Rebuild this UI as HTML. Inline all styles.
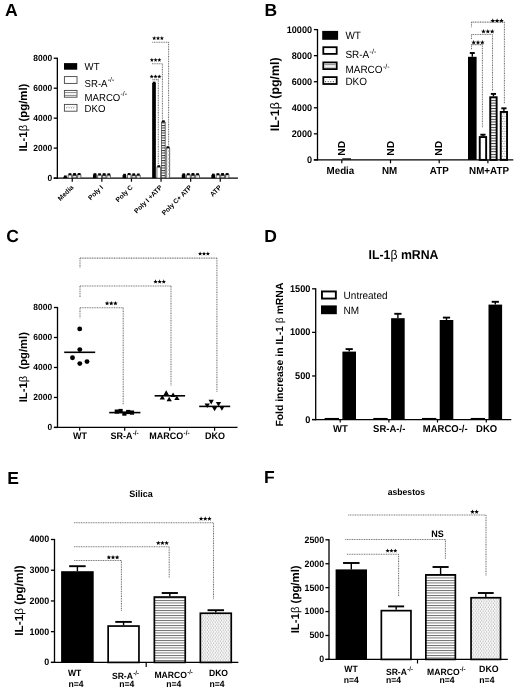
<!DOCTYPE html>
<html><head><meta charset="utf-8"><style>
html,body{margin:0;padding:0;background:#fff;}
body{width:520px;height:690px;overflow:hidden;font-family:"Liberation Sans",sans-serif;}
svg{display:block;filter:blur(0.35px);}
text{fill:#000;text-rendering:geometricPrecision;}
</style></head><body>
<svg width="520" height="690" viewBox="0 0 520 690" font-family="Liberation Sans, sans-serif">
<defs>
<pattern id="stripes" patternUnits="userSpaceOnUse" width="4" height="2.5"><rect width="4" height="2.5" fill="#fff"/><rect y="0" width="4" height="0.9" fill="#6a6a6a"/></pattern>
<pattern id="stripesB" patternUnits="userSpaceOnUse" width="4" height="2.7"><rect width="4" height="2.7" fill="#fff"/><rect y="0" width="4" height="1.0" fill="#3a3a3a"/></pattern>
<pattern id="dotsB" patternUnits="userSpaceOnUse" width="2.6" height="5"><rect width="2.6" height="5" fill="#fff"/><circle cx="0.7" cy="1.2" r="0.5" fill="#444"/><circle cx="2.0" cy="3.7" r="0.5" fill="#444"/></pattern>
<pattern id="stripesA" patternUnits="userSpaceOnUse" width="4" height="2.5"><rect width="4" height="2.5" fill="#fff"/><rect y="0" width="4" height="1.0" fill="#333"/></pattern>
<pattern id="dots" patternUnits="userSpaceOnUse" width="2.6" height="3.8"><rect width="2.6" height="3.8" fill="#fff"/><circle cx="0.65" cy="0.95" r="0.5" fill="#555"/><circle cx="1.95" cy="2.85" r="0.5" fill="#555"/></pattern>
</defs>
<rect width="520" height="690" fill="#fff"/>
<text transform="translate(5.00,16.20) scale(1,1.0)" x="0" y="0" font-size="17.6" font-weight="bold" text-anchor="start" >A</text>
<text transform="translate(264.40,16.20) scale(1,1.0)" x="0" y="0" font-size="17.5" font-weight="bold" text-anchor="start" >B</text>
<text transform="translate(6.20,242.00) scale(1,1.0)" x="0" y="0" font-size="17.5" font-weight="bold" text-anchor="start" >C</text>
<text transform="translate(264.20,241.80) scale(1,1.0)" x="0" y="0" font-size="17.5" font-weight="bold" text-anchor="start" >D</text>
<text transform="translate(7.20,484.20) scale(1,1.0)" x="0" y="0" font-size="17.5" font-weight="bold" text-anchor="start" >E</text>
<text transform="translate(264.00,483.40) scale(1,1.0)" x="0" y="0" font-size="17.5" font-weight="bold" text-anchor="start" >F</text>
<line x1="57.35" y1="57.64" x2="57.35" y2="178.70" stroke="#000" stroke-width="1.3" />
<line x1="53.75" y1="178.10" x2="57.35" y2="178.10" stroke="#000" stroke-width="1.3" />
<text transform="translate(52.10,180.85) scale(1,1.05)" x="0" y="0" font-size="8.45" font-weight="bold" text-anchor="end" >0</text>
<line x1="53.75" y1="148.13" x2="57.35" y2="148.13" stroke="#000" stroke-width="1.3" />
<text transform="translate(52.10,150.88) scale(1,1.05)" x="0" y="0" font-size="8.45" font-weight="bold" text-anchor="end" >2000</text>
<line x1="53.75" y1="118.17" x2="57.35" y2="118.17" stroke="#000" stroke-width="1.3" />
<text transform="translate(52.10,120.92) scale(1,1.05)" x="0" y="0" font-size="8.45" font-weight="bold" text-anchor="end" >4000</text>
<line x1="53.75" y1="88.21" x2="57.35" y2="88.21" stroke="#000" stroke-width="1.3" />
<text transform="translate(52.10,90.95) scale(1,1.05)" x="0" y="0" font-size="8.45" font-weight="bold" text-anchor="end" >6000</text>
<line x1="53.75" y1="58.24" x2="57.35" y2="58.24" stroke="#000" stroke-width="1.3" />
<text transform="translate(52.10,60.99) scale(1,1.05)" x="0" y="0" font-size="8.45" font-weight="bold" text-anchor="end" >8000</text>
<line x1="53.70" y1="178.10" x2="237.90" y2="178.10" stroke="#000" stroke-width="1.3" />
<text transform="translate(27.00,117.60) rotate(-90)" x="0" y="0" font-size="11.4" font-weight="bold" text-anchor="middle">IL-1<tspan font-weight="normal">β</tspan> (pg/ml)</text>
<line x1="72.25" y1="178.10" x2="72.25" y2="181.70" stroke="#000" stroke-width="1.2" />
<rect x="63.35" y="176.75" width="3.70" height="1.35" fill="#000" stroke="none" stroke-width="0"/>
<rect x="63.95" y="175.45" width="2.80" height="2.00" fill="#000" stroke="none" stroke-width="0"/>
<rect x="68.15" y="174.90" width="3.60" height="3.20" fill="#fff" stroke="#333" stroke-width="0.7"/>
<rect x="68.55" y="173.20" width="2.80" height="2.00" fill="#000" stroke="none" stroke-width="0"/>
<rect x="72.75" y="174.75" width="3.60" height="3.35" fill="url(#stripesA)" stroke="#333" stroke-width="0.7"/>
<rect x="73.15" y="173.05" width="2.80" height="2.00" fill="#000" stroke="none" stroke-width="0"/>
<rect x="77.35" y="174.75" width="3.60" height="3.35" fill="url(#dots)" stroke="#333" stroke-width="0.7"/>
<rect x="77.75" y="173.05" width="2.80" height="2.00" fill="#000" stroke="none" stroke-width="0"/>
<text transform="translate(73.85,187.90) rotate(-45)" font-size="6.7" font-weight="bold" text-anchor="end">Media</text>
<line x1="101.85" y1="178.10" x2="101.85" y2="181.70" stroke="#000" stroke-width="1.2" />
<rect x="92.95" y="174.50" width="3.70" height="3.60" fill="#000" stroke="none" stroke-width="0"/>
<rect x="93.55" y="173.20" width="2.80" height="2.00" fill="#000" stroke="none" stroke-width="0"/>
<rect x="97.75" y="175.05" width="3.60" height="3.05" fill="#fff" stroke="#333" stroke-width="0.7"/>
<rect x="98.15" y="173.35" width="2.80" height="2.00" fill="#000" stroke="none" stroke-width="0"/>
<rect x="102.35" y="174.90" width="3.60" height="3.20" fill="url(#stripesA)" stroke="#333" stroke-width="0.7"/>
<rect x="102.75" y="173.20" width="2.80" height="2.00" fill="#000" stroke="none" stroke-width="0"/>
<rect x="106.95" y="175.05" width="3.60" height="3.05" fill="url(#dots)" stroke="#333" stroke-width="0.7"/>
<rect x="107.35" y="173.35" width="2.80" height="2.00" fill="#000" stroke="none" stroke-width="0"/>
<text transform="translate(103.45,187.90) rotate(-45)" font-size="6.7" font-weight="bold" text-anchor="end">Poly I</text>
<line x1="131.45" y1="178.10" x2="131.45" y2="181.70" stroke="#000" stroke-width="1.2" />
<rect x="122.55" y="175.10" width="3.70" height="3.00" fill="#000" stroke="none" stroke-width="0"/>
<rect x="123.15" y="173.80" width="2.80" height="2.00" fill="#000" stroke="none" stroke-width="0"/>
<rect x="127.35" y="174.75" width="3.60" height="3.35" fill="#fff" stroke="#333" stroke-width="0.7"/>
<rect x="127.75" y="173.05" width="2.80" height="2.00" fill="#000" stroke="none" stroke-width="0"/>
<rect x="131.95" y="175.05" width="3.60" height="3.05" fill="url(#stripesA)" stroke="#333" stroke-width="0.7"/>
<rect x="132.35" y="173.35" width="2.80" height="2.00" fill="#000" stroke="none" stroke-width="0"/>
<rect x="136.55" y="175.20" width="3.60" height="2.90" fill="url(#dots)" stroke="#333" stroke-width="0.7"/>
<rect x="136.95" y="173.50" width="2.80" height="2.00" fill="#000" stroke="none" stroke-width="0"/>
<text transform="translate(133.05,187.90) rotate(-45)" font-size="6.7" font-weight="bold" text-anchor="end">Poly C</text>
<line x1="161.05" y1="178.10" x2="161.05" y2="181.70" stroke="#000" stroke-width="1.2" />
<rect x="152.15" y="82.96" width="3.70" height="95.14" fill="#000" stroke="none" stroke-width="0"/>
<rect x="152.75" y="81.66" width="2.80" height="2.00" fill="#000" stroke="none" stroke-width="0"/>
<rect x="156.95" y="166.96" width="3.60" height="11.14" fill="#fff" stroke="#333" stroke-width="0.7"/>
<rect x="157.35" y="165.26" width="2.80" height="2.00" fill="#000" stroke="none" stroke-width="0"/>
<rect x="161.55" y="122.02" width="3.60" height="56.08" fill="url(#stripesA)" stroke="#333" stroke-width="0.7"/>
<rect x="161.95" y="120.32" width="2.80" height="2.00" fill="#000" stroke="none" stroke-width="0"/>
<rect x="166.15" y="147.94" width="3.60" height="30.16" fill="url(#dots)" stroke="#333" stroke-width="0.7"/>
<rect x="166.55" y="146.24" width="2.80" height="2.00" fill="#000" stroke="none" stroke-width="0"/>
<text transform="translate(162.65,187.90) rotate(-45)" font-size="6.7" font-weight="bold" text-anchor="end">Poly I +ATP</text>
<line x1="190.65" y1="178.10" x2="190.65" y2="181.70" stroke="#000" stroke-width="1.2" />
<rect x="181.75" y="174.65" width="3.70" height="3.45" fill="#000" stroke="none" stroke-width="0"/>
<rect x="182.35" y="173.35" width="2.80" height="2.00" fill="#000" stroke="none" stroke-width="0"/>
<rect x="186.55" y="174.90" width="3.60" height="3.20" fill="#fff" stroke="#333" stroke-width="0.7"/>
<rect x="186.95" y="173.20" width="2.80" height="2.00" fill="#000" stroke="none" stroke-width="0"/>
<rect x="191.15" y="174.75" width="3.60" height="3.35" fill="url(#stripesA)" stroke="#333" stroke-width="0.7"/>
<rect x="191.55" y="173.05" width="2.80" height="2.00" fill="#000" stroke="none" stroke-width="0"/>
<rect x="195.75" y="174.90" width="3.60" height="3.20" fill="url(#dots)" stroke="#333" stroke-width="0.7"/>
<rect x="196.15" y="173.20" width="2.80" height="2.00" fill="#000" stroke="none" stroke-width="0"/>
<text transform="translate(192.25,187.90) rotate(-45)" font-size="6.7" font-weight="bold" text-anchor="end">Poly C+ ATP</text>
<line x1="220.25" y1="178.10" x2="220.25" y2="181.70" stroke="#000" stroke-width="1.2" />
<rect x="211.35" y="174.95" width="3.70" height="3.15" fill="#000" stroke="none" stroke-width="0"/>
<rect x="211.95" y="173.65" width="2.80" height="2.00" fill="#000" stroke="none" stroke-width="0"/>
<rect x="216.15" y="174.90" width="3.60" height="3.20" fill="#fff" stroke="#333" stroke-width="0.7"/>
<rect x="216.55" y="173.20" width="2.80" height="2.00" fill="#000" stroke="none" stroke-width="0"/>
<rect x="220.75" y="174.75" width="3.60" height="3.35" fill="url(#stripesA)" stroke="#333" stroke-width="0.7"/>
<rect x="221.15" y="173.05" width="2.80" height="2.00" fill="#000" stroke="none" stroke-width="0"/>
<rect x="225.35" y="174.75" width="3.60" height="3.35" fill="url(#dots)" stroke="#333" stroke-width="0.7"/>
<rect x="225.75" y="173.05" width="2.80" height="2.00" fill="#000" stroke="none" stroke-width="0"/>
<text transform="translate(221.85,187.90) rotate(-45)" font-size="6.7" font-weight="bold" text-anchor="end">ATP</text>
<line x1="152.30" y1="42.30" x2="168.60" y2="42.30" stroke="#737373" stroke-width="1.05" stroke-dasharray="1 0.7"/>
<line x1="168.60" y1="42.30" x2="168.60" y2="145.50" stroke="#737373" stroke-width="1.05" stroke-dasharray="1 0.7"/>
<line x1="152.00" y1="63.80" x2="162.40" y2="63.80" stroke="#737373" stroke-width="1.05" stroke-dasharray="1 0.7"/>
<line x1="162.40" y1="63.80" x2="162.40" y2="119.50" stroke="#737373" stroke-width="1.05" stroke-dasharray="1 0.7"/>
<line x1="152.50" y1="79.60" x2="158.30" y2="79.60" stroke="#737373" stroke-width="1.05" stroke-dasharray="1 0.7"/>
<line x1="158.30" y1="79.60" x2="158.30" y2="164.50" stroke="#737373" stroke-width="1.05" stroke-dasharray="1 0.7"/>
<polygon points="154.22,36.08 154.77,37.54 156.33,37.61 155.10,38.59 155.52,40.10 154.22,39.23 152.91,40.10 153.33,38.59 152.10,37.61 153.67,37.54" fill="#000"/>
<polygon points="158.05,36.08 158.60,37.54 160.16,37.61 158.94,38.59 159.36,40.10 158.05,39.23 156.74,40.10 157.16,38.59 155.94,37.61 157.50,37.54" fill="#000"/>
<polygon points="161.88,36.08 162.43,37.54 164.00,37.61 162.77,38.59 163.19,40.10 161.88,39.23 160.58,40.10 161.00,38.59 159.77,37.61 161.33,37.54" fill="#000"/>
<polygon points="151.87,57.83 152.40,59.26 153.93,59.33 152.73,60.28 153.14,61.75 151.87,60.91 150.59,61.75 151.00,60.28 149.81,59.33 151.33,59.26" fill="#000"/>
<polygon points="155.60,57.83 156.13,59.26 157.66,59.33 156.46,60.28 156.87,61.75 155.60,60.91 154.33,61.75 154.74,60.28 153.54,59.33 155.07,59.26" fill="#000"/>
<polygon points="159.33,57.83 159.87,59.26 161.39,59.33 160.20,60.28 160.61,61.75 159.33,60.91 158.06,61.75 158.47,60.28 157.27,59.33 158.80,59.26" fill="#000"/>
<polygon points="151.70,74.40 152.24,75.85 153.80,75.92 152.58,76.89 153.00,78.38 151.70,77.53 150.40,78.38 150.82,76.89 149.60,75.92 151.16,75.85" fill="#000"/>
<polygon points="155.50,74.40 156.04,75.85 157.60,75.92 156.38,76.89 156.80,78.38 155.50,77.53 154.20,78.38 154.62,76.89 153.40,75.92 154.96,75.85" fill="#000"/>
<polygon points="159.30,74.40 159.84,75.85 161.40,75.92 160.18,76.89 160.60,78.38 159.30,77.53 158.00,78.38 158.42,76.89 157.20,75.92 158.76,75.85" fill="#000"/>
<rect x="64.00" y="63.10" width="13.20" height="6.60" fill="#000" stroke="none" stroke-width="0"/>
<rect x="64.40" y="76.60" width="12.60" height="6.80" fill="#fff" stroke="#444" stroke-width="0.9"/>
<rect x="64.40" y="90.40" width="12.60" height="6.80" fill="#fff" stroke="#444" stroke-width="0.9"/>
<line x1="64.80" y1="92.60" x2="76.60" y2="92.60" stroke="#666" stroke-width="0.8" />
<line x1="64.80" y1="95.40" x2="76.60" y2="95.40" stroke="#666" stroke-width="0.8" />
<rect x="64.40" y="104.40" width="12.60" height="6.80" fill="#fff" stroke="#444" stroke-width="0.9"/>
<circle cx="66.8" cy="107.8" r="0.55" fill="#555"/>
<circle cx="67.89999999999999" cy="106.2" r="0.4" fill="#999"/>
<circle cx="69.1" cy="107.8" r="0.55" fill="#555"/>
<circle cx="70.19999999999999" cy="106.2" r="0.4" fill="#999"/>
<circle cx="71.4" cy="107.8" r="0.55" fill="#555"/>
<circle cx="72.5" cy="106.2" r="0.4" fill="#999"/>
<circle cx="73.7" cy="107.8" r="0.55" fill="#555"/>
<circle cx="74.8" cy="106.2" r="0.4" fill="#999"/>
<text transform="translate(84.60,69.50) scale(1,1.05)" x="0" y="0" font-size="9.6" font-weight="normal" text-anchor="start" >WT</text>
<text transform="translate(84.60,86.90) scale(1,1.05)" x="0" y="0" font-size="9.6" font-weight="normal" text-anchor="start">SR-A<tspan font-size="6.72" dx="0.3" dy="-4.22">-/-</tspan></text>
<text transform="translate(84.60,100.90) scale(1,1.05)" x="0" y="0" font-size="9.6" font-weight="normal" text-anchor="start">MARCO<tspan font-size="6.72" dx="0.3" dy="-4.22">-/-</tspan></text>
<text transform="translate(84.60,111.50) scale(1,1.05)" x="0" y="0" font-size="9.6" font-weight="normal" text-anchor="start" >DKO</text>
<line x1="317.50" y1="29.00" x2="317.50" y2="160.50" stroke="#000" stroke-width="1.3" />
<line x1="313.90" y1="159.90" x2="317.50" y2="159.90" stroke="#000" stroke-width="1.3" />
<text transform="translate(312.00,162.86) scale(1,1.05)" x="0" y="0" font-size="9.1" font-weight="bold" text-anchor="end" >0</text>
<line x1="313.90" y1="133.84" x2="317.50" y2="133.84" stroke="#000" stroke-width="1.3" />
<text transform="translate(312.00,136.80) scale(1,1.05)" x="0" y="0" font-size="9.1" font-weight="bold" text-anchor="end" >2000</text>
<line x1="313.90" y1="107.78" x2="317.50" y2="107.78" stroke="#000" stroke-width="1.3" />
<text transform="translate(312.00,110.74) scale(1,1.05)" x="0" y="0" font-size="9.1" font-weight="bold" text-anchor="end" >4000</text>
<line x1="313.90" y1="81.72" x2="317.50" y2="81.72" stroke="#000" stroke-width="1.3" />
<text transform="translate(312.00,84.68) scale(1,1.05)" x="0" y="0" font-size="9.1" font-weight="bold" text-anchor="end" >6000</text>
<line x1="313.90" y1="55.66" x2="317.50" y2="55.66" stroke="#000" stroke-width="1.3" />
<text transform="translate(312.00,58.62) scale(1,1.05)" x="0" y="0" font-size="9.1" font-weight="bold" text-anchor="end" >8000</text>
<line x1="313.90" y1="29.60" x2="317.50" y2="29.60" stroke="#000" stroke-width="1.3" />
<text transform="translate(312.00,32.56) scale(1,1.05)" x="0" y="0" font-size="9.1" font-weight="bold" text-anchor="end" >10000</text>
<line x1="313.80" y1="159.90" x2="513.30" y2="159.90" stroke="#000" stroke-width="1.3" />
<text transform="translate(279.10,94.35) rotate(-90)" x="0" y="0" font-size="12.4" font-weight="bold" text-anchor="middle">IL-1<tspan font-weight="normal">β</tspan> (pg/ml)</text>
<line x1="341.80" y1="159.90" x2="341.80" y2="163.30" stroke="#000" stroke-width="1.2" />
<text transform="translate(340.40,173.60) scale(1,1.05)" x="0" y="0" font-size="9.8" font-weight="bold" text-anchor="middle" >Media</text>
<line x1="390.50" y1="159.90" x2="390.50" y2="163.30" stroke="#000" stroke-width="1.2" />
<text transform="translate(389.60,173.60) scale(1,1.05)" x="0" y="0" font-size="9.8" font-weight="bold" text-anchor="middle" >NM</text>
<line x1="439.20" y1="159.90" x2="439.20" y2="163.30" stroke="#000" stroke-width="1.2" />
<text transform="translate(439.30,173.60) scale(1,1.05)" x="0" y="0" font-size="9.8" font-weight="bold" text-anchor="middle" >ATP</text>
<line x1="487.90" y1="159.90" x2="487.90" y2="163.30" stroke="#000" stroke-width="1.2" />
<text transform="translate(489.00,173.60) scale(1,1.05)" x="0" y="0" font-size="9.8" font-weight="bold" text-anchor="middle" >NM+ATP</text>
<text transform="translate(345.00,148.30) rotate(-90)" x="0" y="0" font-size="10.2" font-weight="bold" text-anchor="middle">ND</text>
<text transform="translate(393.70,148.30) rotate(-90)" x="0" y="0" font-size="10.2" font-weight="bold" text-anchor="middle">ND</text>
<text transform="translate(442.40,148.30) rotate(-90)" x="0" y="0" font-size="10.2" font-weight="bold" text-anchor="middle">ND</text>
<line x1="342.30" y1="158.90" x2="351.00" y2="158.90" stroke="#000" stroke-width="1.2" />
<rect x="468.00" y="56.80" width="8.60" height="103.10" fill="#000" stroke="none" stroke-width="0"/>
<line x1="472.30" y1="53.00" x2="472.30" y2="56.80" stroke="#000" stroke-width="1.4" />
<line x1="469.80" y1="53.00" x2="474.80" y2="53.00" stroke="#000" stroke-width="1.9" />
<rect x="479.75" y="137.05" width="6.40" height="22.85" fill="#fff" stroke="#000" stroke-width="1.9"/>
<line x1="482.95" y1="134.70" x2="482.95" y2="136.10" stroke="#000" stroke-width="1.4" />
<line x1="480.35" y1="134.70" x2="485.55" y2="134.70" stroke="#000" stroke-width="1.9" />
<rect x="490.25" y="97.25" width="6.40" height="62.65" fill="url(#stripesB)" stroke="#000" stroke-width="1.9"/>
<line x1="493.45" y1="93.90" x2="493.45" y2="96.30" stroke="#000" stroke-width="1.4" />
<line x1="490.85" y1="93.90" x2="496.05" y2="93.90" stroke="#000" stroke-width="1.9" />
<rect x="500.75" y="111.95" width="6.30" height="47.95" fill="url(#dotsB)" stroke="#000" stroke-width="1.9"/>
<line x1="503.90" y1="108.30" x2="503.90" y2="111.00" stroke="#000" stroke-width="1.4" />
<line x1="501.30" y1="108.30" x2="506.50" y2="108.30" stroke="#000" stroke-width="1.9" />
<line x1="471.50" y1="22.10" x2="504.40" y2="22.10" stroke="#737373" stroke-width="1.05" stroke-dasharray="1 0.7"/>
<line x1="471.50" y1="22.10" x2="471.50" y2="27.50" stroke="#737373" stroke-width="1.05" stroke-dasharray="1 0.7"/>
<line x1="504.40" y1="22.10" x2="504.40" y2="104.00" stroke="#737373" stroke-width="1.05" stroke-dasharray="1 0.7"/>
<line x1="471.50" y1="34.50" x2="492.50" y2="34.50" stroke="#737373" stroke-width="1.05" stroke-dasharray="1 0.7"/>
<line x1="471.50" y1="34.50" x2="471.50" y2="39.00" stroke="#737373" stroke-width="1.05" stroke-dasharray="1 0.7"/>
<line x1="492.50" y1="34.50" x2="492.50" y2="91.00" stroke="#737373" stroke-width="1.05" stroke-dasharray="1 0.7"/>
<line x1="471.50" y1="44.60" x2="482.40" y2="44.60" stroke="#737373" stroke-width="1.05" stroke-dasharray="1 0.7"/>
<line x1="471.50" y1="44.60" x2="471.50" y2="50.00" stroke="#737373" stroke-width="1.05" stroke-dasharray="1 0.7"/>
<line x1="482.40" y1="44.60" x2="482.40" y2="127.60" stroke="#737373" stroke-width="1.05" stroke-dasharray="1 0.7"/>
<polygon points="492.77,18.29 493.39,19.95 495.16,20.02 493.77,21.13 494.24,22.83 492.77,21.86 491.29,22.83 491.76,21.13 490.38,20.02 492.15,19.95" fill="#000"/>
<polygon points="497.10,18.29 497.72,19.95 499.49,20.02 498.10,21.13 498.58,22.83 497.10,21.86 495.62,22.83 496.10,21.13 494.71,20.02 496.48,19.95" fill="#000"/>
<polygon points="501.43,18.29 502.05,19.95 503.82,20.02 502.44,21.13 502.91,22.83 501.43,21.86 499.96,22.83 500.43,21.13 499.04,20.02 500.81,19.95" fill="#000"/>
<polygon points="483.48,28.97 484.11,30.64 485.89,30.72 484.49,31.83 484.97,33.55 483.48,32.56 481.99,33.55 482.47,31.83 481.07,30.72 482.86,30.64" fill="#000"/>
<polygon points="487.85,28.97 488.48,30.64 490.26,30.72 488.86,31.83 489.34,33.55 487.85,32.56 486.36,33.55 486.84,31.83 485.44,30.72 487.22,30.64" fill="#000"/>
<polygon points="492.22,28.97 492.84,30.64 494.63,30.72 493.23,31.83 493.71,33.55 492.22,32.56 490.73,33.55 491.21,31.83 489.81,30.72 491.59,30.64" fill="#000"/>
<polygon points="473.67,39.99 474.29,41.65 476.06,41.72 474.67,42.83 475.14,44.53 473.67,43.56 472.19,44.53 472.66,42.83 471.28,41.72 473.05,41.65" fill="#000"/>
<polygon points="478.00,39.99 478.62,41.65 480.39,41.72 479.00,42.83 479.48,44.53 478.00,43.56 476.52,44.53 477.00,42.83 475.61,41.72 477.38,41.65" fill="#000"/>
<polygon points="482.33,39.99 482.95,41.65 484.72,41.72 483.34,42.83 483.81,44.53 482.33,43.56 480.86,44.53 481.33,42.83 479.94,41.72 481.71,41.65" fill="#000"/>
<rect x="322.20" y="30.90" width="15.90" height="8.90" fill="#000" stroke="none" stroke-width="0"/>
<rect x="323.30" y="47.20" width="13.40" height="6.70" fill="#fff" stroke="#000" stroke-width="1.8"/>
<rect x="323.30" y="62.40" width="13.40" height="6.70" fill="#fff" stroke="#000" stroke-width="1.8"/>
<line x1="324.20" y1="64.60" x2="335.80" y2="64.60" stroke="#999" stroke-width="1.3" />
<line x1="324.20" y1="67.30" x2="335.80" y2="67.30" stroke="#bbb" stroke-width="1.0" />
<rect x="323.30" y="77.10" width="13.40" height="6.90" fill="#fff" stroke="#000" stroke-width="1.8"/>
<circle cx="325.6" cy="81.6" r="0.6" fill="#444"/>
<circle cx="326.90000000000003" cy="79.4" r="0.45" fill="#999"/>
<circle cx="328.2" cy="81.6" r="0.6" fill="#444"/>
<circle cx="329.5" cy="79.4" r="0.45" fill="#999"/>
<circle cx="330.8" cy="81.6" r="0.6" fill="#444"/>
<circle cx="332.1" cy="79.4" r="0.45" fill="#999"/>
<circle cx="333.4" cy="81.6" r="0.6" fill="#444"/>
<circle cx="334.7" cy="79.4" r="0.45" fill="#999"/>
<text transform="translate(345.40,39.10) scale(1,1.05)" x="0" y="0" font-size="10.0" font-weight="normal" text-anchor="start" >WT</text>
<text transform="translate(345.40,58.30) scale(1,1.05)" x="0" y="0" font-size="10.0" font-weight="normal" text-anchor="start">SR-A<tspan font-size="7.00" dx="0.3" dy="-4.40">-/-</tspan></text>
<text transform="translate(345.40,73.30) scale(1,1.05)" x="0" y="0" font-size="10.0" font-weight="normal" text-anchor="start">MARCO<tspan font-size="7.00" dx="0.3" dy="-4.40">-/-</tspan></text>
<text transform="translate(345.40,84.60) scale(1,1.05)" x="0" y="0" font-size="10.0" font-weight="normal" text-anchor="start" >DKO</text>
<line x1="57.50" y1="306.90" x2="57.50" y2="428.05" stroke="#000" stroke-width="1.3" />
<line x1="53.90" y1="427.45" x2="57.50" y2="427.45" stroke="#000" stroke-width="1.3" />
<text transform="translate(52.10,430.20) scale(1,1.05)" x="0" y="0" font-size="8.45" font-weight="bold" text-anchor="end" >0</text>
<line x1="53.90" y1="397.46" x2="57.50" y2="397.46" stroke="#000" stroke-width="1.3" />
<text transform="translate(52.10,400.21) scale(1,1.05)" x="0" y="0" font-size="8.45" font-weight="bold" text-anchor="end" >2000</text>
<line x1="53.90" y1="367.48" x2="57.50" y2="367.48" stroke="#000" stroke-width="1.3" />
<text transform="translate(52.10,370.22) scale(1,1.05)" x="0" y="0" font-size="8.45" font-weight="bold" text-anchor="end" >4000</text>
<line x1="53.90" y1="337.49" x2="57.50" y2="337.49" stroke="#000" stroke-width="1.3" />
<text transform="translate(52.10,340.23) scale(1,1.05)" x="0" y="0" font-size="8.45" font-weight="bold" text-anchor="end" >6000</text>
<line x1="53.90" y1="307.50" x2="57.50" y2="307.50" stroke="#000" stroke-width="1.3" />
<text transform="translate(52.10,310.25) scale(1,1.05)" x="0" y="0" font-size="8.45" font-weight="bold" text-anchor="end" >8000</text>
<line x1="53.90" y1="427.45" x2="237.50" y2="427.45" stroke="#000" stroke-width="1.3" />
<text transform="translate(26.90,367.20) rotate(-90)" x="0" y="0" font-size="11.25" font-weight="bold" text-anchor="middle">IL-1<tspan font-weight="normal">β</tspan>  (pg/ml)</text>
<line x1="79.70" y1="427.45" x2="79.70" y2="430.85" stroke="#000" stroke-width="1.2" />
<line x1="124.70" y1="427.45" x2="124.70" y2="430.85" stroke="#000" stroke-width="1.2" />
<line x1="169.70" y1="427.45" x2="169.70" y2="430.85" stroke="#000" stroke-width="1.2" />
<line x1="214.60" y1="427.45" x2="214.60" y2="430.85" stroke="#000" stroke-width="1.2" />
<text transform="translate(79.90,439.40) scale(1,1.05)" x="0" y="0" font-size="9.0" font-weight="bold" text-anchor="middle" >WT</text>
<text transform="translate(110.40,439.40) scale(1,1.05)" x="0" y="0" font-size="9.0" font-weight="bold" text-anchor="start">SR-A<tspan font-size="6.30" dx="0.3" dy="-3.96">-/-</tspan></text>
<text transform="translate(149.30,439.40) scale(1,1.05)" x="0" y="0" font-size="9.0" font-weight="bold" text-anchor="start">MARCO<tspan font-size="6.30" dx="0.3" dy="-3.96">-/-</tspan></text>
<text transform="translate(214.90,439.40) scale(1,1.05)" x="0" y="0" font-size="9.0" font-weight="bold" text-anchor="middle" >DKO</text>
<circle cx="79.7" cy="328.9" r="2.45" fill="#000"/>
<circle cx="79.8" cy="349.6" r="2.45" fill="#000"/>
<circle cx="72.5" cy="357.8" r="2.45" fill="#000"/>
<circle cx="79.8" cy="363.6" r="2.45" fill="#000"/>
<circle cx="87.0" cy="361.6" r="2.45" fill="#000"/>
<line x1="64.20" y1="352.30" x2="95.20" y2="352.30" stroke="#000" stroke-width="1.6" />
<line x1="109.20" y1="412.60" x2="140.40" y2="412.60" stroke="#000" stroke-width="1.6" />
<rect x="114.70" y="409.50" width="4.20" height="4.20" fill="#000" stroke="none" stroke-width="0"/>
<rect x="118.50" y="408.90" width="4.20" height="4.20" fill="#000" stroke="none" stroke-width="0"/>
<rect x="122.30" y="411.50" width="4.20" height="4.20" fill="#000" stroke="none" stroke-width="0"/>
<rect x="126.10" y="409.90" width="4.20" height="4.20" fill="#000" stroke="none" stroke-width="0"/>
<rect x="129.90" y="410.50" width="4.20" height="4.20" fill="#000" stroke="none" stroke-width="0"/>
<line x1="154.60" y1="395.80" x2="185.10" y2="395.80" stroke="#000" stroke-width="1.6" />
<polygon points="159.65,399.50 164.95,399.50 162.30,394.90" fill="#000"/>
<polygon points="163.55,394.90 168.85,394.90 166.20,390.30" fill="#000"/>
<polygon points="166.55,401.30 171.85,401.30 169.20,396.70" fill="#000"/>
<polygon points="170.45,397.00 175.75,397.00 173.10,392.40" fill="#000"/>
<polygon points="174.25,400.10 179.55,400.10 176.90,395.50" fill="#000"/>
<line x1="199.20" y1="406.40" x2="230.20" y2="406.40" stroke="#000" stroke-width="1.6" />
<polygon points="208.55,399.80 213.85,399.80 211.20,404.40" fill="#000"/>
<polygon points="204.55,403.50 209.85,403.50 207.20,408.10" fill="#000"/>
<polygon points="211.95,406.70 217.25,406.70 214.60,411.30" fill="#000"/>
<polygon points="215.85,401.90 221.15,401.90 218.50,406.50" fill="#000"/>
<polygon points="219.25,406.20 224.55,406.20 221.90,410.80" fill="#000"/>
<line x1="80.00" y1="258.10" x2="216.90" y2="258.10" stroke="#737373" stroke-width="1.05" stroke-dasharray="1 0.7"/>
<line x1="80.00" y1="258.10" x2="80.00" y2="268.10" stroke="#737373" stroke-width="1.05" stroke-dasharray="1 0.7"/>
<line x1="216.90" y1="258.10" x2="216.90" y2="392.50" stroke="#737373" stroke-width="1.05" stroke-dasharray="1 0.7"/>
<line x1="80.00" y1="285.90" x2="171.00" y2="285.90" stroke="#737373" stroke-width="1.05" stroke-dasharray="1 0.7"/>
<line x1="80.00" y1="285.90" x2="80.00" y2="297.10" stroke="#737373" stroke-width="1.05" stroke-dasharray="1 0.7"/>
<line x1="171.00" y1="285.90" x2="171.00" y2="386.20" stroke="#737373" stroke-width="1.05" stroke-dasharray="1 0.7"/>
<line x1="80.00" y1="307.70" x2="123.20" y2="307.70" stroke="#737373" stroke-width="1.05" stroke-dasharray="1 0.7"/>
<line x1="80.00" y1="307.70" x2="80.00" y2="318.20" stroke="#737373" stroke-width="1.05" stroke-dasharray="1 0.7"/>
<line x1="123.20" y1="307.70" x2="123.20" y2="404.80" stroke="#737373" stroke-width="1.05" stroke-dasharray="1 0.7"/>
<polygon points="200.13,251.46 200.69,252.94 202.27,253.01 201.03,253.99 201.45,255.51 200.13,254.64 198.82,255.51 199.24,253.99 198.00,253.01 199.58,252.94" fill="#000"/>
<polygon points="204.00,251.46 204.55,252.94 206.13,253.01 204.90,253.99 205.32,255.51 204.00,254.64 202.68,255.51 203.10,253.99 201.87,253.01 203.45,252.94" fill="#000"/>
<polygon points="207.87,251.46 208.42,252.94 210.00,253.01 208.76,253.99 209.18,255.51 207.87,254.64 206.55,255.51 206.97,253.99 205.73,253.01 207.31,252.94" fill="#000"/>
<polygon points="155.55,279.32 156.14,280.89 157.81,280.97 156.50,282.01 156.95,283.62 155.55,282.70 154.15,283.62 154.60,282.01 153.29,280.97 154.96,280.89" fill="#000"/>
<polygon points="159.65,279.32 160.24,280.89 161.91,280.97 160.60,282.01 161.05,283.62 159.65,282.70 158.25,283.62 158.70,282.01 157.39,280.97 159.06,280.89" fill="#000"/>
<polygon points="163.75,279.32 164.34,280.89 166.01,280.97 164.70,282.01 165.15,283.62 163.75,282.70 162.35,283.62 162.80,282.01 161.49,280.97 163.16,280.89" fill="#000"/>
<polygon points="107.08,300.98 107.68,302.58 109.38,302.65 108.05,303.71 108.50,305.36 107.08,304.41 105.66,305.36 106.12,303.71 104.78,302.65 106.49,302.58" fill="#000"/>
<polygon points="111.25,300.98 111.85,302.58 113.55,302.65 112.22,303.71 112.67,305.36 111.25,304.41 109.83,305.36 110.28,303.71 108.95,302.65 110.65,302.58" fill="#000"/>
<polygon points="115.42,300.98 116.01,302.58 117.72,302.65 116.38,303.71 116.84,305.36 115.42,304.41 114.00,305.36 114.45,303.71 113.12,302.65 114.82,302.58" fill="#000"/>
<line x1="315.70" y1="288.20" x2="315.70" y2="420.15" stroke="#000" stroke-width="1.3" />
<line x1="312.10" y1="419.55" x2="315.70" y2="419.55" stroke="#000" stroke-width="1.3" />
<text transform="translate(310.40,422.54) scale(1,1.05)" x="0" y="0" font-size="9.2" font-weight="bold" text-anchor="end" >0</text>
<line x1="312.10" y1="375.97" x2="315.70" y2="375.97" stroke="#000" stroke-width="1.3" />
<text transform="translate(310.40,378.96) scale(1,1.05)" x="0" y="0" font-size="9.2" font-weight="bold" text-anchor="end" >500</text>
<line x1="312.10" y1="332.38" x2="315.70" y2="332.38" stroke="#000" stroke-width="1.3" />
<text transform="translate(310.40,335.37) scale(1,1.05)" x="0" y="0" font-size="9.2" font-weight="bold" text-anchor="end" >1000</text>
<line x1="312.10" y1="288.80" x2="315.70" y2="288.80" stroke="#000" stroke-width="1.3" />
<text transform="translate(310.40,291.79) scale(1,1.05)" x="0" y="0" font-size="9.2" font-weight="bold" text-anchor="end" >1500</text>
<line x1="312.10" y1="419.55" x2="511.30" y2="419.55" stroke="#000" stroke-width="1.3" />
<text transform="translate(403.50,258.60) scale(1,1.05)" x="0" y="0" font-size="12.3" font-weight="bold" text-anchor="middle" >IL-1<tspan font-weight="normal">β</tspan> mRNA</text>
<text transform="translate(283.30,354.60) rotate(-90)" x="0" y="0" font-size="10.4" font-weight="bold" text-anchor="middle">Fold increase in IL-1 <tspan font-weight="normal">β</tspan> mRNA</text>
<line x1="340.20" y1="419.55" x2="340.20" y2="422.55" stroke="#000" stroke-width="1.2" />
<line x1="324.60" y1="418.55" x2="339.00" y2="418.55" stroke="#000" stroke-width="1.2" />
<rect x="342.40" y="351.60" width="13.60" height="67.95" fill="#000" stroke="none" stroke-width="0"/>
<line x1="349.20" y1="349.10" x2="349.20" y2="351.60" stroke="#000" stroke-width="1.4" />
<line x1="345.60" y1="349.10" x2="352.80" y2="349.10" stroke="#000" stroke-width="1.9" />
<line x1="388.90" y1="419.55" x2="388.90" y2="422.55" stroke="#000" stroke-width="1.2" />
<line x1="373.30" y1="418.55" x2="387.70" y2="418.55" stroke="#000" stroke-width="1.2" />
<rect x="391.10" y="318.20" width="13.60" height="101.35" fill="#000" stroke="none" stroke-width="0"/>
<line x1="397.90" y1="313.80" x2="397.90" y2="318.20" stroke="#000" stroke-width="1.4" />
<line x1="394.30" y1="313.80" x2="401.50" y2="313.80" stroke="#000" stroke-width="1.9" />
<line x1="437.50" y1="419.55" x2="437.50" y2="422.55" stroke="#000" stroke-width="1.2" />
<line x1="421.90" y1="418.55" x2="436.30" y2="418.55" stroke="#000" stroke-width="1.2" />
<rect x="439.70" y="320.00" width="13.60" height="99.55" fill="#000" stroke="none" stroke-width="0"/>
<line x1="446.50" y1="317.60" x2="446.50" y2="320.00" stroke="#000" stroke-width="1.4" />
<line x1="442.90" y1="317.60" x2="450.10" y2="317.60" stroke="#000" stroke-width="1.9" />
<line x1="486.30" y1="419.55" x2="486.30" y2="422.55" stroke="#000" stroke-width="1.2" />
<line x1="470.70" y1="418.55" x2="485.10" y2="418.55" stroke="#000" stroke-width="1.2" />
<rect x="488.50" y="304.60" width="13.60" height="114.95" fill="#000" stroke="none" stroke-width="0"/>
<line x1="495.30" y1="301.80" x2="495.30" y2="304.60" stroke="#000" stroke-width="1.4" />
<line x1="491.70" y1="301.80" x2="498.90" y2="301.80" stroke="#000" stroke-width="1.9" />
<text transform="translate(340.50,432.30) scale(1,1.05)" x="0" y="0" font-size="9.5" font-weight="bold" text-anchor="middle" >WT</text>
<text transform="translate(389.20,432.30) scale(1,1.05)" x="0" y="0" font-size="9.5" font-weight="bold" text-anchor="middle" >SR-A-/-</text>
<text transform="translate(445.20,432.30) scale(1,1.05)" x="0" y="0" font-size="9.5" font-weight="bold" text-anchor="middle" >MARCO-/-</text>
<text transform="translate(486.60,432.30) scale(1,1.05)" x="0" y="0" font-size="9.5" font-weight="bold" text-anchor="middle" >DKO</text>
<rect x="321.95" y="291.45" width="13.90" height="7.10" fill="#fff" stroke="#000" stroke-width="1.9"/>
<rect x="321.00" y="305.40" width="15.80" height="8.80" fill="#000" stroke="none" stroke-width="0"/>
<text transform="translate(343.60,298.90) scale(1,1.05)" x="0" y="0" font-size="10.0" font-weight="normal" text-anchor="start" >Untreated</text>
<text transform="translate(343.60,314.00) scale(1,1.05)" x="0" y="0" font-size="10.0" font-weight="normal" text-anchor="start" >NM</text>
<line x1="54.50" y1="538.90" x2="54.50" y2="663.00" stroke="#000" stroke-width="1.3" />
<line x1="50.90" y1="662.40" x2="54.50" y2="662.40" stroke="#000" stroke-width="1.3" />
<text transform="translate(49.20,665.29) scale(1,1.05)" x="0" y="0" font-size="8.9" font-weight="bold" text-anchor="end" >0</text>
<line x1="50.90" y1="631.67" x2="54.50" y2="631.67" stroke="#000" stroke-width="1.3" />
<text transform="translate(49.20,634.57) scale(1,1.05)" x="0" y="0" font-size="8.9" font-weight="bold" text-anchor="end" >1000</text>
<line x1="50.90" y1="600.95" x2="54.50" y2="600.95" stroke="#000" stroke-width="1.3" />
<text transform="translate(49.20,603.84) scale(1,1.05)" x="0" y="0" font-size="8.9" font-weight="bold" text-anchor="end" >2000</text>
<line x1="50.90" y1="570.23" x2="54.50" y2="570.23" stroke="#000" stroke-width="1.3" />
<text transform="translate(49.20,573.12) scale(1,1.05)" x="0" y="0" font-size="8.9" font-weight="bold" text-anchor="end" >3000</text>
<line x1="50.90" y1="539.50" x2="54.50" y2="539.50" stroke="#000" stroke-width="1.3" />
<text transform="translate(49.20,542.39) scale(1,1.05)" x="0" y="0" font-size="8.9" font-weight="bold" text-anchor="end" >4000</text>
<line x1="50.90" y1="662.40" x2="238.30" y2="662.40" stroke="#000" stroke-width="1.3" />
<line x1="146.20" y1="662.40" x2="146.20" y2="667.00" stroke="#000" stroke-width="1.2" />
<text transform="translate(23.10,600.50) rotate(-90)" x="0" y="0" font-size="11.8" font-weight="bold" text-anchor="middle">IL-1<tspan font-weight="normal">β</tspan> (pg/ml)</text>
<text transform="translate(140.90,496.60) scale(1,1.05)" x="0" y="0" font-size="9.0" font-weight="bold" text-anchor="middle" >Silica</text>
<rect x="61.10" y="571.20" width="32.60" height="91.20" fill="#000" stroke="none" stroke-width="0"/>
<line x1="77.40" y1="566.20" x2="77.40" y2="571.20" stroke="#000" stroke-width="1.4" />
<line x1="69.15" y1="566.20" x2="85.65" y2="566.20" stroke="#000" stroke-width="1.9" />
<rect x="108.15" y="626.05" width="30.80" height="36.35" fill="#fff" stroke="#000" stroke-width="1.7"/>
<line x1="123.55" y1="621.90" x2="123.55" y2="625.20" stroke="#000" stroke-width="1.4" />
<line x1="115.30" y1="621.90" x2="131.80" y2="621.90" stroke="#000" stroke-width="1.9" />
<rect x="154.35" y="597.05" width="30.90" height="65.35" fill="url(#stripes)" stroke="#000" stroke-width="1.7"/>
<line x1="169.80" y1="593.00" x2="169.80" y2="596.20" stroke="#000" stroke-width="1.4" />
<line x1="161.70" y1="593.00" x2="177.90" y2="593.00" stroke="#000" stroke-width="1.9" />
<rect x="200.35" y="613.25" width="30.90" height="49.15" fill="url(#dots)" stroke="#000" stroke-width="1.7"/>
<line x1="215.80" y1="610.20" x2="215.80" y2="612.40" stroke="#000" stroke-width="1.4" />
<line x1="207.55" y1="610.20" x2="224.05" y2="610.20" stroke="#000" stroke-width="1.9" />
<line x1="74.10" y1="522.70" x2="213.50" y2="522.70" stroke="#737373" stroke-width="1.05" stroke-dasharray="1 0.7"/>
<line x1="213.50" y1="522.70" x2="213.50" y2="599.60" stroke="#737373" stroke-width="1.05" stroke-dasharray="1 0.7"/>
<line x1="74.10" y1="546.80" x2="169.20" y2="546.80" stroke="#737373" stroke-width="1.05" stroke-dasharray="1 0.7"/>
<line x1="169.20" y1="546.80" x2="169.20" y2="577.90" stroke="#737373" stroke-width="1.05" stroke-dasharray="1 0.7"/>
<line x1="74.10" y1="560.40" x2="121.40" y2="560.40" stroke="#737373" stroke-width="1.05" stroke-dasharray="1 0.7"/>
<line x1="121.40" y1="560.40" x2="121.40" y2="611.50" stroke="#737373" stroke-width="1.05" stroke-dasharray="1 0.7"/>
<polygon points="201.08,516.28 201.68,517.88 203.38,517.95 202.05,519.01 202.50,520.66 201.08,519.71 199.66,520.66 200.12,519.01 198.78,517.95 200.49,517.88" fill="#000"/>
<polygon points="205.25,516.28 205.85,517.88 207.55,517.95 206.22,519.01 206.67,520.66 205.25,519.71 203.83,520.66 204.28,519.01 202.95,517.95 204.65,517.88" fill="#000"/>
<polygon points="209.42,516.28 210.01,517.88 211.72,517.95 210.38,519.01 210.84,520.66 209.42,519.71 208.00,520.66 208.45,519.01 207.12,517.95 208.82,517.88" fill="#000"/>
<polygon points="158.28,540.68 158.88,542.28 160.58,542.35 159.25,543.41 159.70,545.06 158.28,544.12 156.86,545.06 157.32,543.41 155.98,542.35 157.69,542.28" fill="#000"/>
<polygon points="162.45,540.68 163.05,542.28 164.75,542.35 163.42,543.41 163.87,545.06 162.45,544.12 161.03,545.06 161.48,543.41 160.15,542.35 161.85,542.28" fill="#000"/>
<polygon points="166.62,540.68 167.21,542.28 168.92,542.35 167.58,543.41 168.04,545.06 166.62,544.12 165.20,545.06 165.65,543.41 164.32,542.35 166.02,542.28" fill="#000"/>
<polygon points="108.87,555.00 109.46,556.59 111.15,556.66 109.82,557.71 110.28,559.34 108.87,558.41 107.46,559.34 107.91,557.71 106.59,556.66 108.27,556.59" fill="#000"/>
<polygon points="113.00,555.00 113.59,556.59 115.28,556.66 113.96,557.71 114.41,559.34 113.00,558.41 111.59,559.34 112.04,557.71 110.72,556.66 112.41,556.59" fill="#000"/>
<polygon points="117.13,555.00 117.73,556.59 119.41,556.66 118.09,557.71 118.54,559.34 117.13,558.41 115.72,559.34 116.18,557.71 114.85,556.66 116.54,556.59" fill="#000"/>
<text transform="translate(74.60,676.10) scale(1,1.05)" x="0" y="0" font-size="8.6" font-weight="bold" text-anchor="middle" >WT</text>
<text transform="translate(76.00,686.60) scale(1,1.05)" x="0" y="0" font-size="8.6" font-weight="bold" text-anchor="middle" >n=4</text>
<text transform="translate(111.90,678.50) scale(1,1.05)" x="0" y="0" font-size="8.6" font-weight="bold" text-anchor="start">SR-A<tspan font-size="6.02" dx="0.3" dy="-3.78">-/-</tspan></text>
<text transform="translate(126.70,686.60) scale(1,1.05)" x="0" y="0" font-size="8.6" font-weight="bold" text-anchor="middle" >n=4</text>
<text transform="translate(154.40,678.20) scale(1,1.05)" x="0" y="0" font-size="8.6" font-weight="bold" text-anchor="start">MARCO<tspan font-size="6.02" dx="0.3" dy="-3.78">-/-</tspan></text>
<text transform="translate(173.80,687.00) scale(1,1.05)" x="0" y="0" font-size="8.6" font-weight="bold" text-anchor="middle" >n=4</text>
<text transform="translate(218.50,676.10) scale(1,1.05)" x="0" y="0" font-size="8.6" font-weight="bold" text-anchor="middle" >DKO</text>
<text transform="translate(217.00,687.00) scale(1,1.05)" x="0" y="0" font-size="8.6" font-weight="bold" text-anchor="middle" >n=4</text>
<line x1="329.00" y1="539.20" x2="329.00" y2="660.00" stroke="#000" stroke-width="1.3" />
<line x1="325.40" y1="659.40" x2="329.00" y2="659.40" stroke="#000" stroke-width="1.3" />
<text transform="translate(324.10,662.26) scale(1,1.05)" x="0" y="0" font-size="8.8" font-weight="bold" text-anchor="end" >0</text>
<line x1="325.40" y1="635.48" x2="329.00" y2="635.48" stroke="#000" stroke-width="1.3" />
<text transform="translate(324.10,638.34) scale(1,1.05)" x="0" y="0" font-size="8.8" font-weight="bold" text-anchor="end" >500</text>
<line x1="325.40" y1="611.56" x2="329.00" y2="611.56" stroke="#000" stroke-width="1.3" />
<text transform="translate(324.10,614.42) scale(1,1.05)" x="0" y="0" font-size="8.8" font-weight="bold" text-anchor="end" >1000</text>
<line x1="325.40" y1="587.64" x2="329.00" y2="587.64" stroke="#000" stroke-width="1.3" />
<text transform="translate(324.10,590.50) scale(1,1.05)" x="0" y="0" font-size="8.8" font-weight="bold" text-anchor="end" >1500</text>
<line x1="325.40" y1="563.72" x2="329.00" y2="563.72" stroke="#000" stroke-width="1.3" />
<text transform="translate(324.10,566.58) scale(1,1.05)" x="0" y="0" font-size="8.8" font-weight="bold" text-anchor="end" >2000</text>
<line x1="325.40" y1="539.80" x2="329.00" y2="539.80" stroke="#000" stroke-width="1.3" />
<text transform="translate(324.10,542.66) scale(1,1.05)" x="0" y="0" font-size="8.8" font-weight="bold" text-anchor="end" >2500</text>
<line x1="325.40" y1="659.40" x2="507.80" y2="659.40" stroke="#000" stroke-width="1.3" />
<line x1="417.50" y1="659.40" x2="417.50" y2="663.50" stroke="#000" stroke-width="1.2" />
<text transform="translate(299.00,599.40) rotate(-90)" x="0" y="0" font-size="11.4" font-weight="bold" text-anchor="middle">IL-1<tspan font-weight="normal">β</tspan> (pg/ml)</text>
<text transform="translate(406.40,495.40) scale(1,1.05)" x="0" y="0" font-size="8.6" font-weight="bold" text-anchor="middle" >asbestos</text>
<rect x="335.60" y="569.40" width="31.40" height="90.00" fill="#000" stroke="none" stroke-width="0"/>
<line x1="351.30" y1="563.00" x2="351.30" y2="569.40" stroke="#000" stroke-width="1.4" />
<line x1="343.05" y1="563.00" x2="359.55" y2="563.00" stroke="#000" stroke-width="1.9" />
<rect x="381.35" y="610.65" width="29.60" height="48.75" fill="#fff" stroke="#000" stroke-width="1.7"/>
<line x1="396.15" y1="606.40" x2="396.15" y2="609.80" stroke="#000" stroke-width="1.4" />
<line x1="388.15" y1="606.40" x2="404.15" y2="606.40" stroke="#000" stroke-width="1.9" />
<rect x="425.85" y="574.85" width="29.50" height="84.55" fill="url(#stripes)" stroke="#000" stroke-width="1.7"/>
<line x1="440.60" y1="567.00" x2="440.60" y2="574.00" stroke="#000" stroke-width="1.4" />
<line x1="432.55" y1="567.00" x2="448.65" y2="567.00" stroke="#000" stroke-width="1.9" />
<rect x="471.05" y="597.75" width="29.50" height="61.65" fill="url(#dots)" stroke="#000" stroke-width="1.7"/>
<line x1="485.80" y1="593.00" x2="485.80" y2="596.90" stroke="#000" stroke-width="1.4" />
<line x1="477.90" y1="593.00" x2="493.70" y2="593.00" stroke="#000" stroke-width="1.9" />
<line x1="348.20" y1="515.00" x2="486.00" y2="515.00" stroke="#737373" stroke-width="1.05" stroke-dasharray="1 0.7"/>
<line x1="486.00" y1="515.00" x2="486.00" y2="575.40" stroke="#737373" stroke-width="1.05" stroke-dasharray="1 0.7"/>
<line x1="345.30" y1="539.40" x2="445.40" y2="539.40" stroke="#737373" stroke-width="1.05" stroke-dasharray="1 0.7"/>
<line x1="445.40" y1="539.40" x2="445.40" y2="558.70" stroke="#737373" stroke-width="1.05" stroke-dasharray="1 0.7"/>
<line x1="347.00" y1="554.30" x2="398.60" y2="554.30" stroke="#737373" stroke-width="1.05" stroke-dasharray="1 0.7"/>
<line x1="398.60" y1="554.30" x2="398.60" y2="596.30" stroke="#737373" stroke-width="1.05" stroke-dasharray="1 0.7"/>
<polygon points="472.47,509.49 473.07,511.08 474.76,511.16 473.44,512.21 473.89,513.85 472.47,512.91 471.06,513.85 471.51,512.21 470.19,511.16 471.88,511.08" fill="#000"/>
<polygon points="476.62,509.49 477.22,511.08 478.91,511.16 477.59,512.21 478.04,513.85 476.62,512.91 475.21,513.85 475.66,512.21 474.34,511.16 476.03,511.08" fill="#000"/>
<text transform="translate(437.40,536.50) scale(1,1.05)" x="0" y="0" font-size="9.0" font-weight="bold" text-anchor="middle" >NS</text>
<polygon points="387.62,548.58 388.17,550.04 389.73,550.11 388.50,551.09 388.92,552.60 387.62,551.73 386.31,552.60 386.73,551.09 385.50,550.11 387.07,550.04" fill="#000"/>
<polygon points="391.45,548.58 392.00,550.04 393.56,550.11 392.34,551.09 392.76,552.60 391.45,551.73 390.14,552.60 390.56,551.09 389.34,550.11 390.90,550.04" fill="#000"/>
<polygon points="395.28,548.58 395.83,550.04 397.40,550.11 396.17,551.09 396.59,552.60 395.28,551.73 393.98,552.60 394.40,551.09 393.17,550.11 394.73,550.04" fill="#000"/>
<text transform="translate(351.00,672.10) scale(1,1.05)" x="0" y="0" font-size="8.6" font-weight="bold" text-anchor="middle" >WT</text>
<text transform="translate(351.30,683.10) scale(1,1.05)" x="0" y="0" font-size="8.6" font-weight="bold" text-anchor="middle" >n=4</text>
<text transform="translate(385.90,674.80) scale(1,1.05)" x="0" y="0" font-size="8.6" font-weight="bold" text-anchor="start">SR-A<tspan font-size="6.02" dx="0.3" dy="-3.78">-/-</tspan></text>
<text transform="translate(393.50,682.80) scale(1,1.05)" x="0" y="0" font-size="8.6" font-weight="bold" text-anchor="middle" >n=4</text>
<text transform="translate(427.10,674.80) scale(1,1.05)" x="0" y="0" font-size="8.6" font-weight="bold" text-anchor="start">MARCO<tspan font-size="6.02" dx="0.3" dy="-3.78">-/-</tspan></text>
<text transform="translate(447.10,682.90) scale(1,1.05)" x="0" y="0" font-size="8.6" font-weight="bold" text-anchor="middle" >n=4</text>
<text transform="translate(488.90,672.20) scale(1,1.05)" x="0" y="0" font-size="8.8" font-weight="bold" text-anchor="middle" >DKO</text>
<text transform="translate(486.90,683.00) scale(1,1.05)" x="0" y="0" font-size="8.6" font-weight="bold" text-anchor="middle" >n=4</text>
</svg>
</body></html>
